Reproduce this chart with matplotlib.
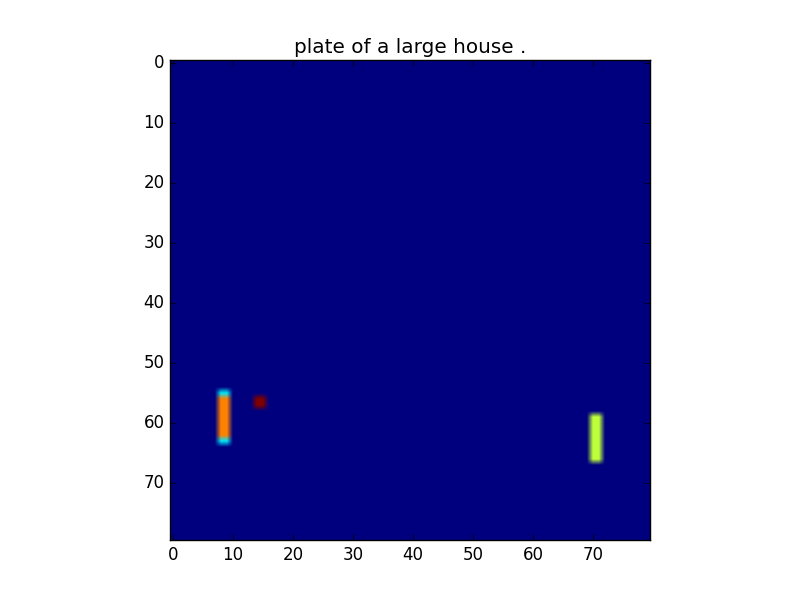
import matplotlib
matplotlib.use('Agg')
import matplotlib.pyplot as plt
import numpy as np

plt.style.use('classic')

# grid size and the objects on the plate (rows, cols, value)
size = 80
orange_rows = [56, 57, 58, 59, 60, 61, 62]
orange_cols = [8, 9]
orange_val = 0.77
cyan_rows = [55, 63]
cyan_val = 0.35
red_rows = [56, 57]
red_cols = [14, 15]
red_val = 1.0
green_rows = [59, 60, 61, 62, 63, 64, 65, 66]
green_cols = [70, 71]
green_val = 0.58

plate = np.zeros((size, size))
for r in orange_rows:
    for c in orange_cols:
        plate[r, c] = orange_val
for r in cyan_rows:
    for c in orange_cols:
        plate[r, c] = cyan_val
for r in red_rows:
    for c in red_cols:
        plate[r, c] = red_val
for r in green_rows:
    for c in green_cols:
        plate[r, c] = green_val

fig = plt.figure(figsize=(8, 6), dpi=100)
ax = fig.add_subplot(111)
ax.imshow(plate, cmap='jet', interpolation='bilinear',
          interpolation_stage='rgba', vmin=0, vmax=1)
ax.set_title('plate of a large house .')
ax.set_xticks(np.arange(0, 80, 10))
ax.set_yticks(np.arange(0, 80, 10))

fig.savefig('out.png', dpi=100)
